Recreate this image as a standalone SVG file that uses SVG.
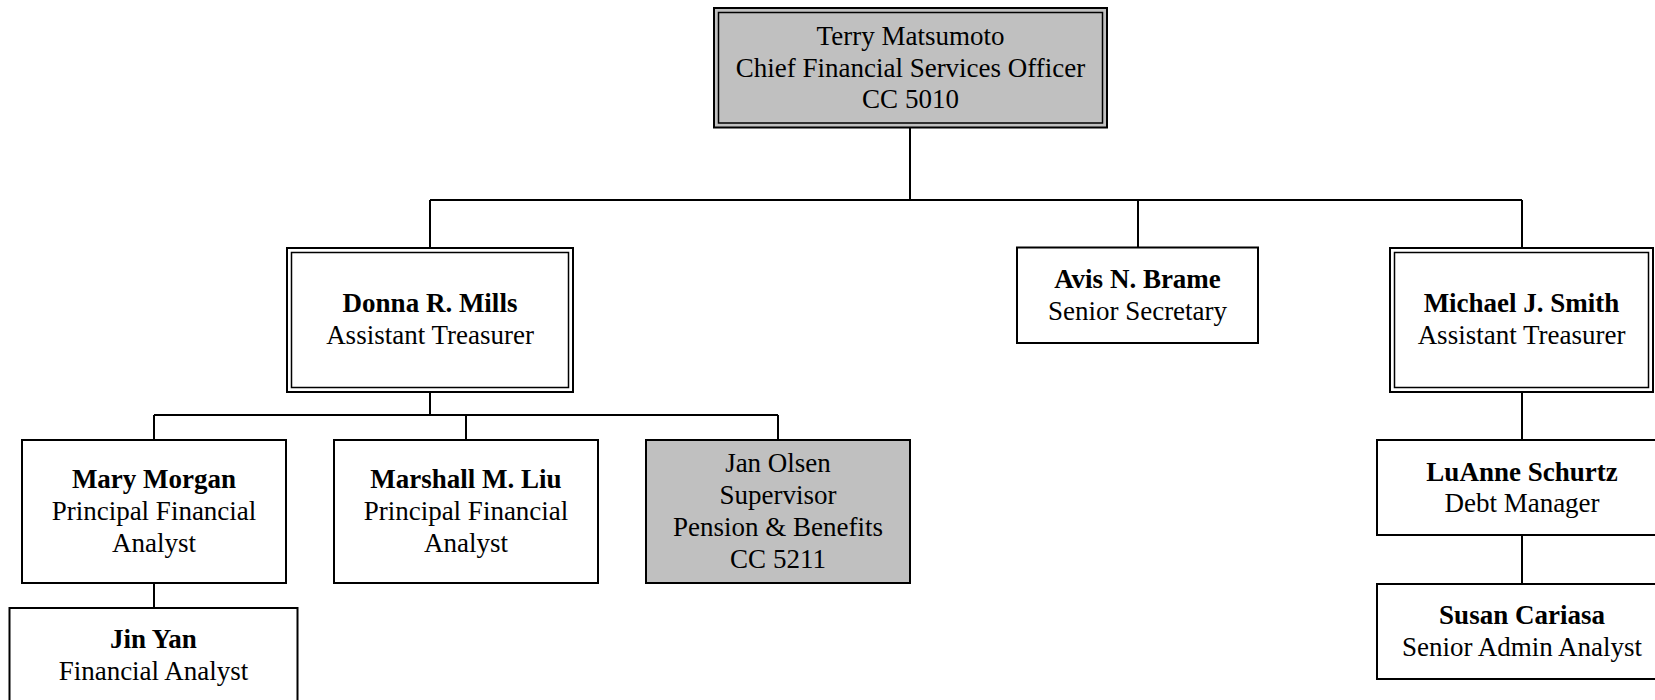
<svg xmlns="http://www.w3.org/2000/svg" width="1655" height="700" viewBox="0 0 1655 700">
<style>
  .box { fill: #ffffff; stroke: #000000; stroke-width: 2; }
  .gray { fill: #c0c0c0; }
  .inner { fill: none; stroke: #000000; stroke-width: 1.5; }
  .conn { fill: none; stroke: #000000; stroke-width: 2; }
  text { font-family: "Liberation Serif", "Times New Roman", serif; font-size: 27px; fill: #000000; text-anchor: middle; }
  .b { font-weight: bold; }
</style>
<rect width="1655" height="700" fill="#ffffff"/>
<g id="connectors">
  <path class="conn" d="M910,127.5 V200 M430,200 H1522 M430,200 V248 M1138,200 V247.5 M1522,200 V248"/>
  <path class="conn" d="M430,392 V415 M154,415 H778 M154,415 V440 M466,415 V440 M778,415 V440"/>
  <path class="conn" d="M154,583 V608"/>
  <path class="conn" d="M1522,392 V440 M1522,535 V584"/>
</g>
<g id="terry">
  <rect class="box gray" x="714" y="8" width="393" height="119.5"/>
  <rect class="inner" x="718.5" y="12.5" width="384" height="110.5"/>
  <text x="910.5" y="45">Terry Matsumoto</text>
  <text x="910.5" y="76.5">Chief Financial Services Officer</text>
  <text x="910.5" y="108">CC 5010</text>
</g>
<g id="donna">
  <rect class="box" x="287" y="248" width="286" height="144"/>
  <rect class="inner" x="291.5" y="252.5" width="277" height="135"/>
  <text class="b" x="430" y="312">Donna R. Mills</text>
  <text x="430" y="344">Assistant Treasurer</text>
</g>
<g id="avis">
  <rect class="box" x="1017" y="247.5" width="241" height="95.5"/>
  <text class="b" x="1137.5" y="287.5">Avis N. Brame</text>
  <text x="1137.5" y="319.5">Senior Secretary</text>
</g>
<g id="michael">
  <rect class="box" x="1390" y="248" width="263" height="144"/>
  <rect class="inner" x="1394.5" y="252.5" width="254" height="135"/>
  <text class="b" x="1521.5" y="312">Michael J. Smith</text>
  <text x="1521.5" y="344">Assistant Treasurer</text>
</g>
<g id="mary">
  <rect class="box" x="22" y="440" width="264" height="143"/>
  <text class="b" x="154" y="488">Mary Morgan</text>
  <text x="154" y="520">Principal Financial</text>
  <text x="154" y="552">Analyst</text>
</g>
<g id="marshall">
  <rect class="box" x="334" y="440" width="264" height="143"/>
  <text class="b" x="466" y="488">Marshall M. Liu</text>
  <text x="466" y="520">Principal Financial</text>
  <text x="466" y="552">Analyst</text>
</g>
<g id="jan">
  <rect class="box gray" x="646" y="440" width="264" height="143"/>
  <text x="778" y="472">Jan Olsen</text>
  <text x="778" y="504">Supervisor</text>
  <text x="778" y="536">Pension &amp; Benefits</text>
  <text x="778" y="567.5">CC 5211</text>
</g>
<g id="jin">
  <rect class="box" x="9.5" y="608" width="288" height="96"/>
  <text class="b" x="153.5" y="648">Jin Yan</text>
  <text x="153.5" y="679.5">Financial Analyst</text>
</g>
<g id="luanne">
  <rect class="box" x="1377" y="440" width="290" height="95"/>
  <text class="b" x="1522" y="480.5">LuAnne Schurtz</text>
  <text x="1522" y="512">Debt Manager</text>
</g>
<g id="susan">
  <rect class="box" x="1377" y="584" width="290" height="95"/>
  <text class="b" x="1522" y="624">Susan Cariasa</text>
  <text x="1522" y="655.5">Senior Admin Analyst</text>
</g>
</svg>
